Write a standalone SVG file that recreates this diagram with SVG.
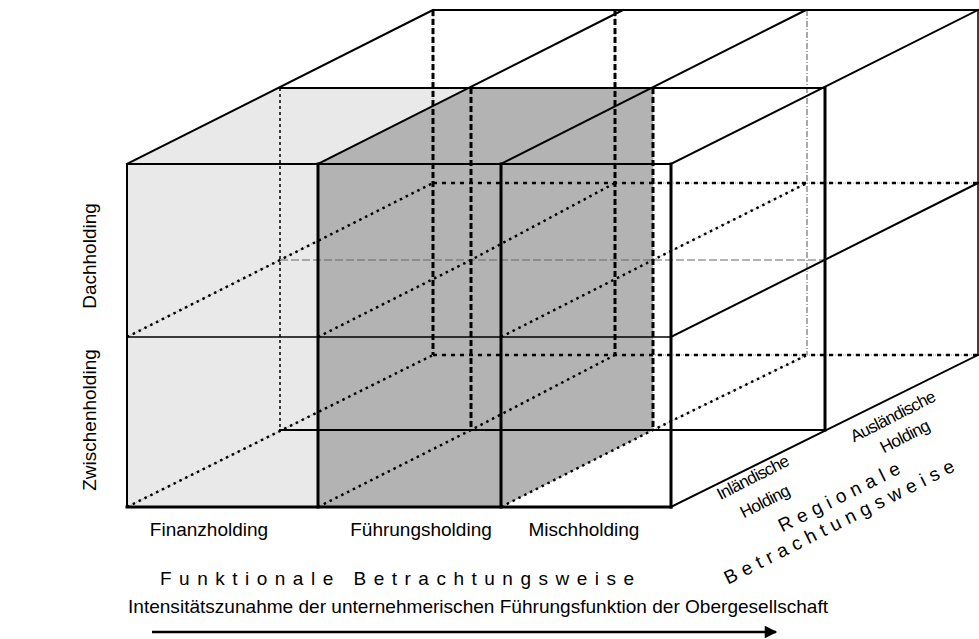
<svg xmlns="http://www.w3.org/2000/svg" width="979" height="639" viewBox="0 0 979 639">
  <style>
    .edge { fill: none; stroke: #000; stroke-width: 2; stroke-linecap: square; }
    .heavy { stroke-width: 3; }
    .light { stroke-width: 1.5; }
    .hidden-under { fill: none; stroke: #9a9a9a; stroke-width: 1; stroke-dasharray: 1 1; }
    .hidden-v { fill: none; stroke: #000; stroke-width: 3; stroke-dasharray: 6 3; }
    .hidden-h { fill: none; stroke: #000; stroke-width: 2.5; stroke-dasharray: 4 5; }
    .depth-dot { fill: none; stroke: #000; stroke-width: 2.5; stroke-dasharray: 2.5 4; }
    .fine-dash { fill: none; stroke: #666; stroke-width: 1; stroke-dasharray: 8 3; }
    .fine-dashdot { fill: none; stroke: #555; stroke-width: 1; stroke-dasharray: 6 2 1 2; }
    .back-left { fill: none; stroke: #000; stroke-width: 1.5; stroke-dasharray: 3 3; }
    text { font-family: "Liberation Sans", Arial, sans-serif; fill: #000; }
    .lbl { font-size: 19px; }
    .axis { font-size: 19px; letter-spacing: 7.5px; }
    .region { font-size: 17px; letter-spacing: -0.7px; }
  </style>
  <defs>
    <marker id="arrowhead" viewBox="0 0 10 10" refX="9" refY="5" markerWidth="6" markerHeight="5" markerUnits="strokeWidth" orient="auto">
      <path d="M0,0 L10,5 L0,10 Z" fill="#000"/>
    </marker>
  </defs>

  <!-- shaded column bodies -->
  <g id="fills">
    <polygon id="finanz-body" points="127,164 280,88 471,88 318,164 318,507 127,507" fill="#e9e9e9"/>
    <polygon id="fuehrung-body" points="318,164 471,88 653,88 653,430 501,507 318,507" fill="#b3b3b3"/>
  </g>

  <!-- hidden edges of the cube -->
  <g id="hidden-edges">
    <!-- underlying grey traces -->
    <path class="hidden-under" d="M433,10 V355 M471,88 V430 M615,10 V355 M653,88 V430 M433,183 H978 M433,355 H978"/>
    <path class="hidden-under" d="M127,337 L433,183 M318,337 L471,260 L615,183 M501,337 L653,260 L807,183 M127,507 L433,355 M318,507 L471,430 L615,355 M501,507 L653,430 L807,355"/>
    <!-- middle plane -->
    <path class="back-left" d="M280,88 V430"/>
    <path class="fine-dash" d="M280,260 H825"/>
    <path class="hidden-v" d="M471,88 V430 M653,88 V430"/>
    <!-- back plane -->
    <path class="hidden-v" d="M433,10 V355 M615,10 V355"/>
    <path class="fine-dashdot" d="M807,10 V355"/>
    <path class="hidden-h" d="M433,183 H978 M433,355 H978"/>
    <!-- depth lines running backwards -->
    <path class="depth-dot" d="M127,337 L433,183 M318,337 L471,260 L615,183 M501,337 L653,260 L807,183"/>
    <path class="depth-dot" d="M127,507 L433,355 M318,507 L471,430 L615,355 M501,507 L653,430 L807,355"/>
  </g>

  <!-- visible edges of the cube -->
  <g id="visible-edges">
    <!-- back plane -->
    <path class="edge" d="M433,10 H978"/>
    <path class="edge light" d="M978,10 V355"/>
    <!-- middle plane -->
    <path class="edge" d="M280,88 H825"/>
    <path class="edge heavy" d="M825,88 V430"/>
    <path class="edge" d="M280,430 H825"/>
    <!-- receding edges -->
    <path class="edge" d="M127,164 L433,10 M318,164 L623,10 M501,164 L806,10 M671,164 L978,10"/>
    <path class="edge" d="M671,337 L978,183 M671,507 L978,355"/>
    <!-- front plane -->
    <path class="edge" d="M127,164 H671"/>
    <path class="edge light" d="M127,337 H671"/>
    <path class="edge" d="M127,164 V507"/>
    <path class="edge heavy" d="M318,164 V507 M501,164 V507 M671,164 V507"/>
    <path class="edge heavy" d="M127,507 H671"/>
  </g>

  <!-- axis labels -->
  <g id="labels">
    <text class="lbl" transform="translate(96,256) rotate(-90)" text-anchor="middle">Dachholding</text>
    <text class="lbl" transform="translate(96,420) rotate(-90)" text-anchor="middle">Zwischenholding</text>

    <text class="lbl" x="209" y="536" text-anchor="middle">Finanzholding</text>
    <text class="lbl" x="421" y="536" text-anchor="middle">Führungsholding</text>
    <text class="lbl" x="584" y="536" text-anchor="middle">Mischholding</text>

    <text class="axis" x="160" y="585">Funktionale Betrachtungsweise</text>
    <text class="lbl" x="128" y="613" textLength="700" lengthAdjust="spacingAndGlyphs">Intensitätszunahme der unternehmerischen Führungsfunktion der Obergesellschaft</text>

    <text class="region" transform="translate(753,478) rotate(-27)" text-anchor="middle" y="5">Inländische</text>
    <text class="region" transform="translate(765,502) rotate(-27)" text-anchor="middle" y="5">Holding</text>
    <text class="region" transform="translate(893,417) rotate(-27)" text-anchor="middle" y="5">Ausländische</text>
    <text class="region" transform="translate(905,437) rotate(-27)" text-anchor="middle" y="5">Holding</text>

    <text class="lbl" transform="translate(842,496) rotate(-26.6)" text-anchor="middle" y="6" letter-spacing="6">Regionale</text>
    <text class="lbl" transform="translate(842,521) rotate(-26.6)" text-anchor="middle" y="6" letter-spacing="5.9">Betrachtungsweise</text>
  </g>

  <!-- direction of increasing control -->
  <g id="connectors">
    <line x1="152" y1="632" x2="776" y2="632" stroke="#000" stroke-width="2.5" marker-end="url(#arrowhead)"/>
  </g>
</svg>
